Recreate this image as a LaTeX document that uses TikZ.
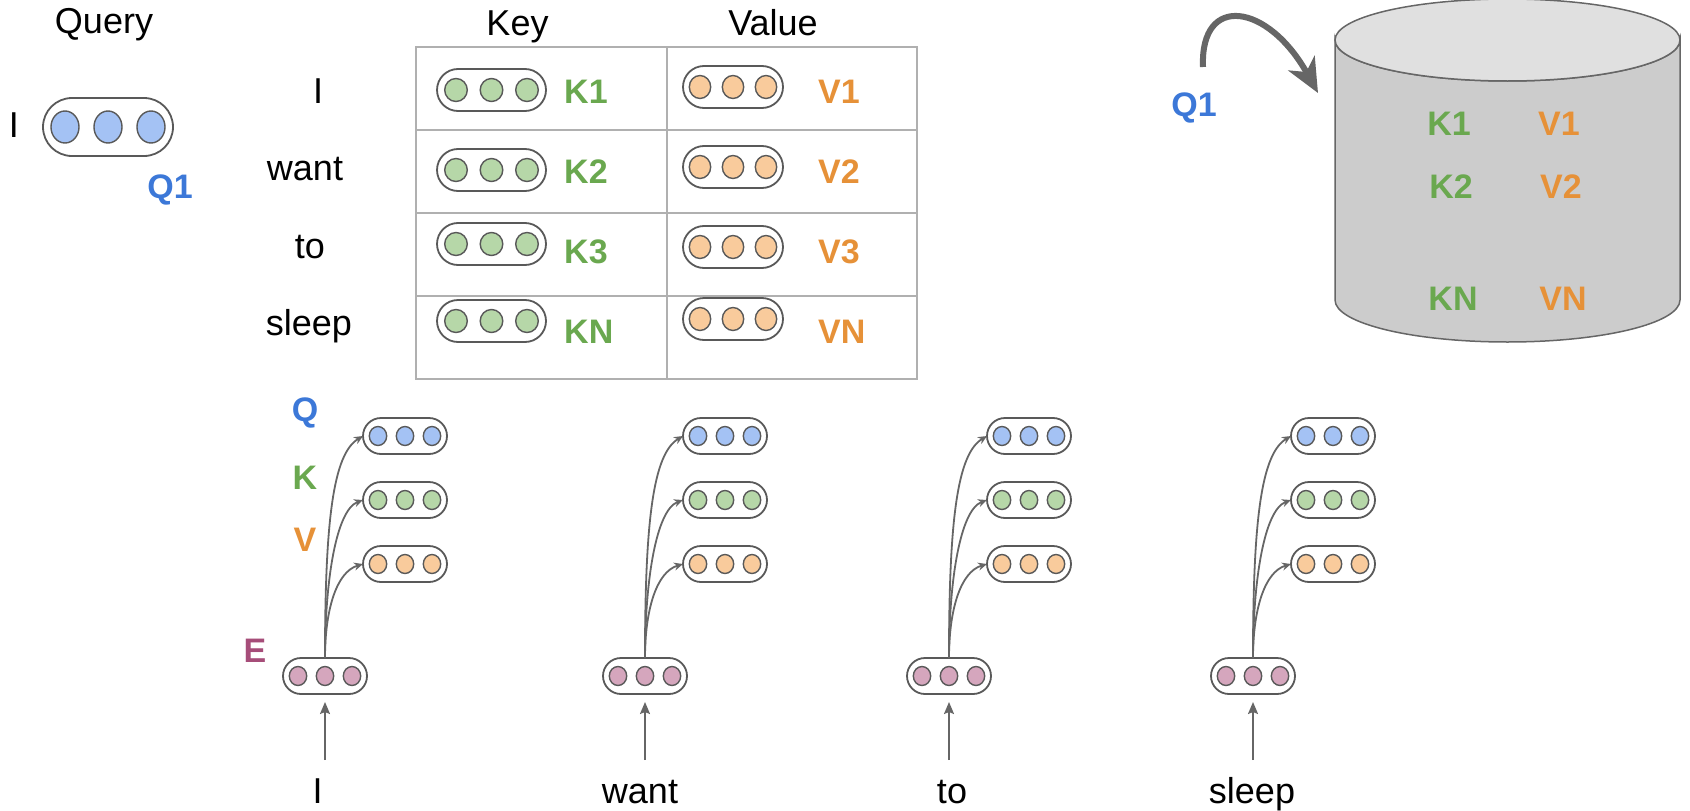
\documentclass[tikz,border=0pt]{standalone}
\usepackage{fontspec}
\setmainfont{Liberation Sans}
\usetikzlibrary{arrows.meta}
\definecolor{edge}{HTML}{595959}
\definecolor{arrowc}{HTML}{666666}
\definecolor{qfill}{HTML}{A4C2F4}
\definecolor{kfill}{HTML}{B6D7A8}
\definecolor{vfill}{HTML}{F9CB9C}
\definecolor{efill}{HTML}{D5A6BD}
\definecolor{qtext}{HTML}{3C78D8}
\definecolor{ktext}{HTML}{6AA84F}
\definecolor{vtext}{HTML}{E69138}
\definecolor{etext}{HTML}{A64D79}
\definecolor{gridc}{HTML}{B0B0B0}
\definecolor{cyltop}{HTML}{E0E0E0}
\definecolor{cylbody}{HTML}{CCCCCC}
\definecolor{cyledge}{HTML}{666666}
\tikzset{
  capsule/.style={draw=edge, fill=white, line width=1.8pt, inner sep=0pt, outer sep=0pt, rectangle},
  dot/.style={draw=edge, line width=1.4pt},
  pics/vec/.style n args={6}{code={
    \node[capsule, minimum width=#2pt, minimum height=#3pt, rounded corners=#3*0.5pt] (-box) at (0,0) {};
    \foreach \i in {-1,0,1} { \draw[dot, fill=#1] (\i*#4,0) ellipse [x radius=#5, y radius=#6]; }
  }},
  word/.style={font=\fontsize{36}{40}\selectfont, inner sep=0pt, anchor=base},
  bl/.style={font=\fontsize{34}{38}\selectfont\bfseries, inner sep=0pt},
  gridline/.style={draw=gridc, line width=2pt},
  arr/.style={draw=arrowc, line width=1.8pt, -{Stealth[length=9pt,width=8pt]}},
  uparr/.style={draw=arrowc, line width=1.8pt, -{Stealth[length=12pt,width=10pt,inset=2pt]}},
  bigarr/.style={draw=arrowc, line width=6pt, -{Stealth[length=34pt,width=30pt,inset=10pt]}},
}
\begin{document}
\begin{tikzpicture}[x=1pt, y=-1pt]
\useasboundingbox (0,0) rectangle (1690,811);

% ---------- Query ----------
\node[word] (querytitle) at (104,34) {Query};
\node[word] (qword) at (14,137) {I};
\pic (qone) at (108,127) {vec={qfill}{130}{58}{43}{14}{16}};
\node[bl, text=qtext] (qonelabel) at (170,190) {Q1};

% ---------- Key / Value table ----------
\node[word] (keytitle) at (517.5,35) {Key};
\node[word] (valuetitle) at (773,35) {Value};
\draw[gridline] (416,47) rectangle (917,379);
\draw[gridline] (667,47) -- (667,379);
\draw[gridline] (416,130) -- (917,130);
\draw[gridline] (416,213) -- (917,213);
\draw[gridline] (416,296) -- (917,296);

\node[word] (row1) at (318,103) {I};
\node[word] (row2) at (305,180) {want};
\node[word] (row3) at (310,258) {to};
\node[word] (row4) at (309,335) {sleep};

\pic (key1) at (491.5,90)  {vec={kfill}{109}{42}{35.5}{11.3}{11.5}};
\pic (key2) at (491.5,170) {vec={kfill}{109}{42}{35.5}{11.3}{11.5}};
\pic (key3) at (491.5,244) {vec={kfill}{109}{42}{35.5}{11.3}{11.5}};
\pic (keyN) at (491.5,321) {vec={kfill}{109}{42}{35.5}{11.3}{11.5}};
\pic (val1) at (733,87)  {vec={vfill}{100}{42}{33}{10.7}{11.5}};
\pic (val2) at (733,167) {vec={vfill}{100}{42}{33}{10.7}{11.5}};
\pic (val3) at (733,247) {vec={vfill}{100}{42}{33}{10.7}{11.5}};
\pic (valN) at (733,319) {vec={vfill}{100}{42}{33}{10.7}{11.5}};

\node[bl, text=ktext, anchor=west] (k1l) at (564,92) {K1};
\node[bl, text=ktext, anchor=west] (k2l) at (564,172) {K2};
\node[bl, text=ktext, anchor=west] (k3l) at (564,252) {K3};
\node[bl, text=ktext, anchor=west] (kNl) at (564,332) {KN};
\node[bl, text=vtext, anchor=west] (v1l) at (818,92) {V1};
\node[bl, text=vtext, anchor=west] (v2l) at (818,172) {V2};
\node[bl, text=vtext, anchor=west] (v3l) at (818,252) {V3};
\node[bl, text=vtext, anchor=west] (vNl) at (818,332) {VN};

% ---------- Cylinder ----------
\filldraw[fill=cylbody, draw=cyledge, line width=1.5pt]
  (1335,40) -- (1335,300) arc[start angle=180, end angle=0, x radius=172.5, y radius=42]
  -- (1680,40) arc[start angle=0, end angle=180, x radius=172.5, y radius=41] -- cycle;
\filldraw[fill=cyltop, draw=cyledge, line width=1.5pt] (1507.5,40) ellipse [x radius=172.5, y radius=41];
\node[bl, text=ktext] (ck1) at (1449,124) {K1};
\node[bl, text=vtext] (cv1) at (1559,124) {V1};
\node[bl, text=ktext] (ck2) at (1451,187) {K2};
\node[bl, text=vtext] (cv2) at (1561,187) {V2};
\node[bl, text=ktext] (ckN) at (1453,299) {KN};
\node[bl, text=vtext] (cvN) at (1563,299) {VN};

\coordinate (qs) at (1203,67);
\coordinate (qe) at (1318,93);
\draw[bigarr] (qs) .. controls +(-3,-74) and +(-50,-90) .. (qe);
\node[bl, text=qtext] (qtwo) at (1194,108) {Q1};

% ---------- Bottom: embeddings ----------
\node[bl, text=qtext] (qlet) at (305,413) {Q};
\node[bl, text=ktext] (klet) at (305,478) {K};
\node[bl, text=vtext] (vlet) at (305,540) {V};
\node[bl, text=etext] (elet) at (255,651) {E};

\foreach \n/\cx/\wx/\w in {a/325/317.5/I, b/645/640/want, c/949/952/to, d/1253/1252/sleep} {
  \pic (e\n) at (\cx,676) {vec={efill}{84}{36}{27}{8.7}{9.5}};
  \pic (q\n) at (\cx+80,436) {vec={qfill}{84}{36}{27}{8.7}{9.5}};
  \pic (k\n) at (\cx+80,500) {vec={kfill}{84}{36}{27}{8.7}{9.5}};
  \pic (v\n) at (\cx+80,564) {vec={vfill}{84}{36}{27}{8.7}{9.5}};
  \node[word] (w\n) at (\wx,803) {\w};
  \coordinate (s\n) at (\cx,760);
  \draw[uparr, shorten >=8pt] (s\n) -- (e\n-box.south);
  \draw[arr] (e\n-box.north) .. controls +(0,-137) and +(-30,18) .. (q\n-box.west);
  \draw[arr] (e\n-box.north) .. controls +(0,-77) and +(-27,10) .. (k\n-box.west);
  \draw[arr] (e\n-box.north) .. controls +(0,-47) and +(-27,8) .. (v\n-box.west);
}
\end{tikzpicture}
\end{document}
